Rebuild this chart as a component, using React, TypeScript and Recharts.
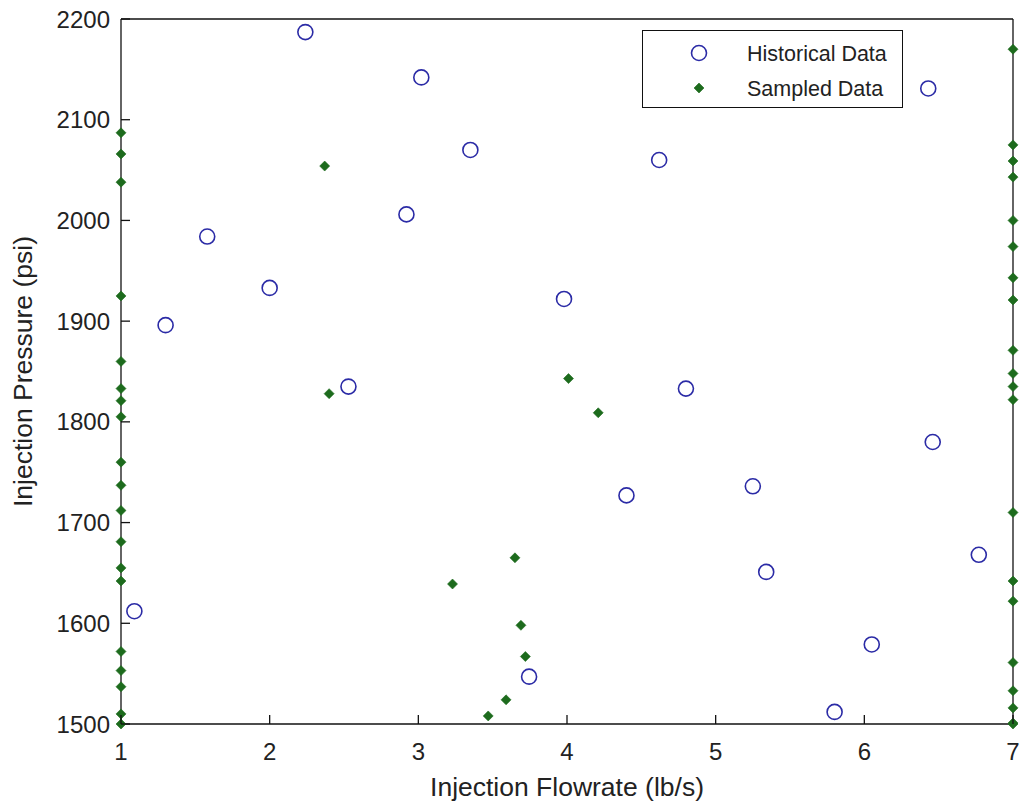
import React from 'react';
import { ScatterChart, Scatter, XAxis, YAxis, Legend } from 'recharts';

const historicalX = [1.09, 1.3, 1.58, 2.0, 2.24, 2.53, 2.92, 3.02, 3.35, 3.745, 3.98, 4.4, 4.62, 4.8, 5.25, 5.34, 5.8, 6.05, 6.43, 6.46, 6.77];
const historicalY = [1612, 1896, 1984, 1933, 2187, 1835, 2006, 2142, 2070, 1547, 1922, 1727, 2060, 1833, 1736, 1651, 1512, 1579, 2131, 1780, 1668];

const sampledX = [
  1, 1, 1, 1, 1, 1, 1, 1, 1, 1, 1, 1, 1, 1, 1, 1, 1, 1, 1,
  7, 7, 7, 7, 7, 7, 7, 7, 7, 7, 7, 7, 7, 7, 7, 7, 7, 7, 7, 7,
  2.37, 2.4, 3.23, 3.65, 3.69, 3.72, 3.59, 3.47, 4.01, 4.21,
];
const sampledY = [
  2087, 2066, 2038, 1925, 1860, 1833, 1821, 1805, 1760, 1737, 1712, 1681, 1655, 1642, 1572, 1553, 1537, 1510, 1500,
  2170, 2075, 2059, 2043, 2000, 1974, 1943, 1921, 1871, 1848, 1835, 1822, 1710, 1642, 1622, 1561, 1533, 1516, 1501, 1500,
  2054, 1828, 1639, 1665, 1598, 1567, 1524, 1508, 1843, 1809,
];

const xTicks = [1, 2, 3, 4, 5, 6, 7];
const yTicks = [1500, 1600, 1700, 1800, 1900, 2000, 2100, 2200];

const historical = historicalX.map((x, i) => ({ x, y: historicalY[i] }));
const sampled = sampledX.map((x, i) => ({ x, y: sampledY[i] }));

const FONT = '"Liberation Sans", Arial, Helvetica, sans-serif';
const BLUE = '#2b2ba6';
const GREEN = '#1d6b1d';
const INK = '#222';
const TICK_COLOR = '#111';
const TICK_W = 1.3;

const MARGIN = { top: 18, right: 6, bottom: 0, left: 0 };
const CHART_W = 1020;
const CHART_H = 801;
const Y_AXIS_W = 121;
const X_AXIS_H = 77;
const TOP_AXIS_H = 1;
const RIGHT_AXIS_W = 1;
const PLOT_LEFT = MARGIN.left + Y_AXIS_W;
const PLOT_RIGHT = CHART_W - MARGIN.right - RIGHT_AXIS_W;
const PLOT_TOP = MARGIN.top + TOP_AXIS_H;
const PLOT_BOTTOM = CHART_H - MARGIN.bottom - X_AXIS_H;
const TICK_LEN = 9;
const LEFT_TICK_GAP = 11;
const BOTTOM_TICK_GAP = 19;

const CircleShape = (props: any) => {
  const { cx, cy } = props;
  if (cx == null || cy == null) return null;
  return <circle cx={cx} cy={cy} r={7.5} fill="none" stroke={BLUE} strokeWidth={1.6} />;
};

const DiamondShape = (props: any) => {
  const { cx, cy } = props;
  if (cx == null || cy == null) return null;
  const s = 5;
  return (
    <path
      d={`M${cx},${cy - s} L${cx + s},${cy} L${cx},${cy + s} L${cx - s},${cy} Z`}
      fill={GREEN}
      stroke={GREEN}
      strokeWidth={0.6}
    />
  );
};

const BottomTick = (props: any) => {
  const { x, payload } = props;
  return (
    <g>
      <path d={`M${x},${PLOT_BOTTOM} L${x},${PLOT_BOTTOM - TICK_LEN}`} stroke={TICK_COLOR} strokeWidth={TICK_W} fill="none" />
      <text x={x} y={PLOT_BOTTOM + BOTTOM_TICK_GAP} dy="0.71em" textAnchor="middle" fontFamily={FONT} fontSize={24} fill={INK}>
        {payload.value}
      </text>
    </g>
  );
};

const TopTick = (props: any) => {
  const { x } = props;
  return <path d={`M${x},${PLOT_TOP} L${x},${PLOT_TOP + TICK_LEN}`} stroke={TICK_COLOR} strokeWidth={TICK_W} fill="none" />;
};

const LeftTick = (props: any) => {
  const { y, payload } = props;
  return (
    <g>
      <path d={`M${PLOT_LEFT},${y} L${PLOT_LEFT + TICK_LEN},${y}`} stroke={TICK_COLOR} strokeWidth={TICK_W} fill="none" />
      <text x={PLOT_LEFT - LEFT_TICK_GAP} y={y} dy="0.36em" textAnchor="end" fontFamily={FONT} fontSize={24} fill={INK}>
        {payload.value}
      </text>
    </g>
  );
};

const RightTick = (props: any) => {
  const { y } = props;
  return <path d={`M${PLOT_RIGHT},${y} L${PLOT_RIGHT - TICK_LEN},${y}`} stroke={TICK_COLOR} strokeWidth={TICK_W} fill="none" />;
};

const LegendBox = () => (
  <div style={{ width: 259, height: 76, border: '1.3px solid #111', background: '#fff', position: 'relative' }}>
    <svg width={259} height={76} style={{ position: 'absolute', left: 0, top: 0 }}>
      <circle cx={56} cy={22} r={7.5} fill="none" stroke={BLUE} strokeWidth={1.6} />
      <path d="M56,52 L61,57 L56,62 L51,57 Z" fill={GREEN} stroke={GREEN} strokeWidth={0.6} />
      <text x={104} y={22} dy="0.36em" fontFamily={FONT} fontSize={21.5} fill={INK}>
        Historical Data
      </text>
      <text x={104} y={57} dy="0.36em" fontFamily={FONT} fontSize={21.5} fill={INK}>
        Sampled Data
      </text>
    </svg>
  </div>
);

const axisLine = { stroke: '#111', strokeWidth: 1.3 };

export default function App() {
  return (
    <div style={{ position: 'absolute', left: 0, top: 0, width: CHART_W, height: CHART_H, background: '#fff' }}>
      <ScatterChart width={CHART_W} height={CHART_H} margin={MARGIN}>
        <XAxis
          xAxisId="b"
          type="number"
          dataKey="x"
          domain={[1, 7]}
          ticks={xTicks}
          interval={0}
          orientation="bottom"
          height={X_AXIS_H}
          tickSize={0}
          tickMargin={0}
          tick={<BottomTick />}
          axisLine={axisLine}
          tickLine={false}
          label={{
            value: 'Injection Flowrate (lb/s)',
            position: 'insideBottom',
            offset: 5,
            style: { fontSize: 26.5, fill: INK, fontFamily: FONT, textAnchor: 'middle' },
          }}
        />
        <XAxis
          xAxisId="t"
          type="number"
          dataKey="x"
          domain={[1, 7]}
          ticks={xTicks}
          interval={0}
          orientation="top"
          height={TOP_AXIS_H}
          tickSize={0}
          tick={<TopTick />}
          axisLine={axisLine}
          tickLine={false}
        />
        <YAxis
          yAxisId="l"
          type="number"
          dataKey="y"
          domain={[1500, 2200]}
          ticks={yTicks}
          interval={0}
          orientation="left"
          width={Y_AXIS_W}
          tickSize={0}
          tickMargin={0}
          tick={<LeftTick />}
          axisLine={axisLine}
          tickLine={false}
          label={{
            value: 'Injection Pressure (psi)',
            angle: -90,
            position: 'insideLeft',
            offset: 23,
            style: { fontSize: 26.5, fill: INK, fontFamily: FONT, textAnchor: 'middle' },
          }}
        />
        <YAxis
          yAxisId="r"
          type="number"
          dataKey="y"
          domain={[1500, 2200]}
          ticks={yTicks}
          interval={0}
          orientation="right"
          width={RIGHT_AXIS_W}
          tickSize={0}
          tick={<RightTick />}
          axisLine={axisLine}
          tickLine={false}
        />
        <Legend
          layout="horizontal"
          verticalAlign="middle"
          align="center"
          wrapperStyle={{ left: 642, top: 30, width: 261, height: 78 }}
          content={() => <LegendBox />}
        />
        <Scatter name="Historical Data" data={historical} xAxisId="b" yAxisId="l" shape={CircleShape} isAnimationActive={false} />
        <Scatter name="Sampled Data" data={sampled} xAxisId="b" yAxisId="l" shape={DiamondShape} isAnimationActive={false} />
      </ScatterChart>
    </div>
  );
}
